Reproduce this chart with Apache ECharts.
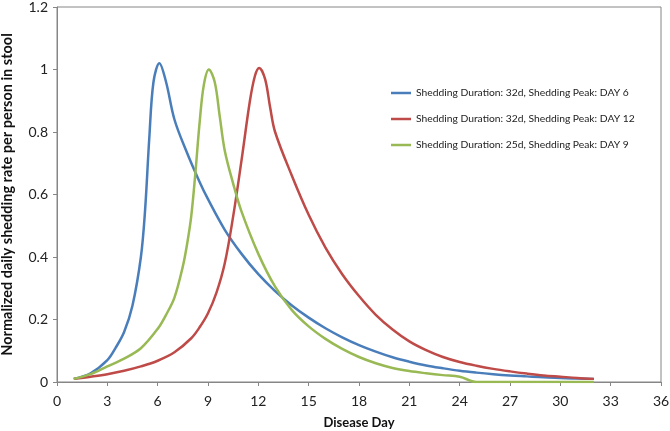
<!DOCTYPE html>
<html>
<head>
<meta charset="utf-8">
<script src="https://cdn.jsdelivr.net/npm/echarts@6/dist/echarts.min.js"></script>
<style>html,body{margin:0;padding:0;background:#fff}#c{width:670px;height:431px}</style>
</head>
<body>
<div id="c"></div>
<script>
// Series names
const seriesNames = [
  'Shedding Duration: 32d, Shedding Peak: DAY 6',
  'Shedding Duration: 32d, Shedding Peak: DAY 12',
  'Shedding Duration: 25d, Shedding Peak: DAY 9'
];
// Blue: peak day 6
const blueDays = [1,2,3,3.5,4,4.5,5,5.25,5.5,5.75,6.1,6.5,7,7.7,8.5,9,10,11,12,13,14,15,16,17,18,19,20,21,22,23,24,25,26,27,28,29,30,31,32];
const blueVals = [0.01,0.028,0.07,0.11,0.16,0.245,0.40,0.55,0.78,0.96,1.02,0.96,0.84,0.74,0.64,0.585,0.487,0.41,0.345,0.291,0.245,0.206,0.172,0.143,0.118,0.097,0.079,0.065,0.053,0.044,0.036,0.03,0.025,0.021,0.018,0.015,0.013,0.011,0.01];
// Red: peak day 12
const redDays = [1,2,3,4,5,6,7,8,8.5,9,9.5,10,10.5,11,11.5,11.8,12.05,12.4,12.7,13,14,15,16,17,18,19,20,21,22,23,24,25,26,27,28,29,30,31,32];
const redVals = [0.01,0.017,0.025,0.036,0.05,0.068,0.095,0.14,0.175,0.22,0.285,0.38,0.53,0.71,0.9,0.98,1.005,0.97,0.88,0.80,0.66,0.535,0.43,0.345,0.275,0.215,0.168,0.13,0.102,0.08,0.064,0.052,0.042,0.034,0.027,0.021,0.017,0.013,0.01];
// Green: peak day 9
const greenDays = [1,2,3,4,5,6,6.5,7,7.5,7.75,8,8.25,8.5,8.75,9.05,9.4,9.7,10,10.5,11,12,13,14,15,16,17,18,19,20,21,22,23,24,25,26,27,28,29,30,31,32];
const greenVals = [0.01,0.025,0.05,0.075,0.108,0.17,0.215,0.27,0.37,0.44,0.53,0.67,0.83,0.95,1.0,0.96,0.85,0.74,0.635,0.545,0.41,0.305,0.23,0.178,0.138,0.106,0.08,0.06,0.045,0.035,0.028,0.022,0.017,0,0,0,0,0,0,0,0];

const toPairs = (xs, ys) => xs.map((x, i) => [x, ys[i]]);
const colors = ['#4A7EBB', '#BE4B48', '#98B954'];
const font = 'Lato, "Liberation Sans", sans-serif';

const chart = echarts.init(document.getElementById('c'));
chart.setOption({
  animation: false,
  color: colors,
  grid: { left: 57, right: 9, top: 7, bottom: 49, show: true, borderColor: '#868686', borderWidth: 1,
    containLabel: false, outerBoundsMode: 'none' },
  legend: {
    orient: 'vertical', left: 386, top: 83, itemGap: 16,
    icon: 'rect', itemWidth: 20, itemHeight: 2.5,
    textStyle: { fontFamily: font, fontSize: 10.3, color: '#222' },
    data: seriesNames
  },
  xAxis: {
    type: 'value', min: 0, max: 36, interval: 3,
    name: 'Disease Day', nameLocation: 'middle', nameGap: 34,
    nameTextStyle: { fontFamily: font, fontSize: 13, fontWeight: 'bold', color: '#111' },
    axisLine: { lineStyle: { color: '#868686' } },
    axisTick: { show: true, length: 4, lineStyle: { color: '#868686' } },
    axisLabel: { fontFamily: font, fontSize: 14, color: '#222', margin: 12 },
    splitLine: { show: false }
  },
  yAxis: {
    type: 'value', min: 0, max: 1.2, interval: 0.2,
    name: 'Normalized daily shedding rate per person in stool', nameLocation: 'middle', nameGap: 42,
    nameTextStyle: { fontFamily: font, fontSize: 14.5, fontWeight: 'bold', color: '#111' },
    axisLine: { show: true, lineStyle: { color: '#868686' } },
    axisTick: { show: true, length: 4, lineStyle: { color: '#868686' } },
    axisLabel: { fontFamily: font, fontSize: 14, color: '#222', margin: 9,
      formatter: v => String(Math.round(v * 10) / 10) },
    splitLine: { show: false }
  },
  series: [
    { name: seriesNames[0], type: 'line', data: toPairs(blueDays, blueVals), smooth: 0.35, showSymbol: false, lineStyle: { width: 2.5 } },
    { name: seriesNames[1], type: 'line', data: toPairs(redDays, redVals), smooth: 0.35, showSymbol: false, lineStyle: { width: 2.5 } },
    { name: seriesNames[2], type: 'line', data: toPairs(greenDays, greenVals), smooth: 0.35, showSymbol: false, lineStyle: { width: 2.5 } }
  ]
});
</script>
</body>
</html>
